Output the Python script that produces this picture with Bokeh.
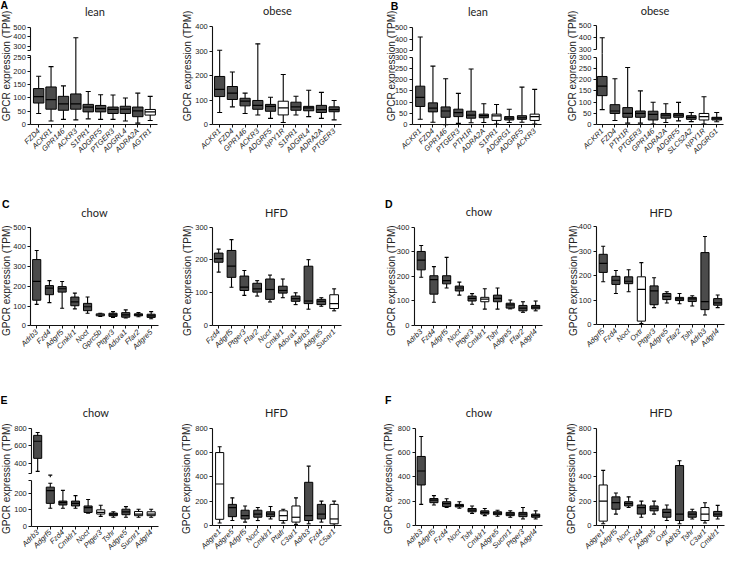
import math
from bokeh.plotting import figure
from bokeh.layouts import row, column
from bokeh.models import Range1d, LinearAxis, FixedTicker, Label
from bokeh.embed import file_html
from bokeh.resources import INLINE

# ---------------- data (TPM box statistics) ----------------
A_LEAN_GENES = ["FZD4", "ACKR1", "GPR146", "ACKR3", "S1PR1", "ADGRF5", "PTGER3", "ADGRL4", "ADRA2A", "AGTR1"]
A_LEAN_LOW = [42, 14, 20, 18, 22, 20, 20, 14, 6, 16]
A_LEAN_Q1 = [81, 58, 54, 58, 48, 48, 42, 42, 30, 36]
A_LEAN_MED = [105, 94, 78, 78, 66, 60, 57, 58, 52, 48]
A_LEAN_Q3 = [135, 141, 106, 115, 76, 72, 66, 69, 66, 57]
A_LEAN_HIGH = [181, 217, 145, 390, 124, 112, 111, 100, 118, 106]
A_LEAN_OPEN = ["AGTR1"]

A_OBESE_GENES = ["ACKR1", "FZD4", "GPR146", "ACKR3", "ADGRF5", "NPY1R", "S1PR1", "ADGRL4", "ADRA2A", "PTGER3"]
A_OBESE_LOW = [50, 73, 46, 40, 26, 9, 40, 33, 26, 20]
A_OBESE_Q1 = [115, 103, 77, 63, 55, 40, 59, 57, 50, 53]
A_OBESE_MED = [144, 129, 96, 79, 75, 69, 73, 69, 62, 62]
A_OBESE_Q3 = [197, 156, 108, 99, 83, 96, 92, 75, 79, 73]
A_OBESE_HIGH = [304, 215, 129, 330, 112, 205, 116, 141, 132, 99]
A_OBESE_OPEN = ["NPY1R"]

B_LEAN_GENES = ["ACKR1", "FZD4", "GPR146", "PTGER3", "PTH1R", "ADRA2A", "S1PR1", "ADGRG1", "ADGRF5", "ACKR3"]
B_LEAN_LOW = [24, 11, 0, 6, 9, 10, 3, 10, 11, 3]
B_LEAN_Q1 = [81, 57, 33, 36, 29, 31, 19, 21, 24, 19]
B_LEAN_MED = [121, 74, 61, 54, 43, 40, 39, 29, 31, 36]
B_LEAN_Q3 = [171, 97, 79, 69, 60, 47, 47, 36, 40, 47]
B_LEAN_HIGH = [420, 260, 204, 139, 247, 93, 90, 69, 167, 157]
B_LEAN_OPEN = ["S1PR1", "ACKR3"]

B_OBESE_GENES = ["ACKR1", "FZD4", "PTH1R", "PTGER3", "GPR146", "ADRA2A", "ADGRF5", "SLC52A2", "NPY1R", "ADGRG1"]
B_OBESE_LOW = [67, 19, 7, 7, 3, 10, 17, 14, 3, 13]
B_OBESE_Q1 = [129, 50, 33, 33, 21, 29, 33, 24, 21, 21]
B_OBESE_MED = [171, 61, 50, 50, 46, 43, 43, 33, 36, 29]
B_OBESE_Q3 = [214, 89, 76, 61, 60, 50, 50, 40, 50, 33]
B_OBESE_HIGH = [400, 204, 254, 150, 100, 93, 99, 54, 124, 54]
B_OBESE_OPEN = ["NPY1R"]

C_CHOW_GENES = ["Adrb3", "Fzd4", "Adgrf5", "Cmklr1", "Noct", "Gprc5b", "Ptger3", "Adora1", "Ffar2", "Adgre5"]
C_CHOW_LOW = [109, 118, 89, 86, 64, 48, 43, 40, 46, 36]
C_CHOW_Q1 = [130, 158, 171, 102, 77, 51, 48, 44, 51, 43]
C_CHOW_MED = [225, 191, 188, 122, 97, 56, 56, 56, 56, 51]
C_CHOW_Q3 = [336, 204, 199, 146, 114, 61, 64, 67, 61, 59]
C_CHOW_HIGH = [382, 229, 225, 166, 146, 64, 72, 81, 67, 72]
C_CHOW_OPEN = ["Gprc5b"]

C_HFD_GENES = ["Fzd4", "Adgrf5", "Ptger3", "Ffar2", "Noct", "Cmklr1", "Adora1", "Adrb3", "Adgre5", "Sucnr1"]
C_HFD_LOW = [163, 117, 92, 90, 72, 85, 64, 50, 59, 45]
C_HFD_Q1 = [193, 147, 107, 102, 80, 99, 74, 67, 64, 52]
C_HFD_MED = [204, 181, 117, 112, 110, 107, 82, 75, 74, 67]
C_HFD_Q3 = [221, 229, 151, 129, 142, 120, 90, 181, 80, 94]
C_HFD_HIGH = [233, 262, 168, 137, 154, 142, 100, 201, 85, 112]
C_HFD_OPEN = ["Sucnr1"]

D_CHOW_GENES = ["Adrb3", "Fzd4", "Adgrf5", "Noct", "Ptger3", "Cmklr1", "Tshr", "Adgre5", "Ffar2", "Adgrl4"]
D_CHOW_LOW = [196, 94, 152, 123, 86, 66, 66, 67, 53, 59]
D_CHOW_Q1 = [226, 127, 169, 140, 99, 96, 96, 70, 59, 67]
D_CHOW_MED = [266, 186, 182, 152, 110, 107, 110, 83, 70, 74]
D_CHOW_Q3 = [301, 202, 202, 160, 119, 114, 123, 90, 81, 81]
D_CHOW_HIGH = [325, 239, 277, 176, 129, 149, 152, 103, 96, 99]
D_CHOW_OPEN = ["Cmklr1"]

D_HFD_GENES = ["Adgrf5", "Fzd4", "Noct", "Oxtr", "Ptger3", "Adgre5", "Ffar2", "Tshr", "Adrb3", "Adgrl4"]
D_HFD_LOW = [176, 128, 135, 5, 70, 89, 86, 77, 40, 70]
D_HFD_Q1 = [214, 165, 168, 15, 82, 103, 99, 95, 62, 80]
D_HFD_MED = [251, 182, 178, 145, 139, 116, 106, 106, 95, 90]
D_HFD_Q3 = [288, 198, 196, 196, 159, 128, 112, 112, 295, 107]
D_HFD_HIGH = [321, 222, 225, 254, 192, 135, 128, 119, 361, 122]
D_HFD_OPEN = ["Oxtr"]

E_CHOW_GENES = ["Adrb3", "Adgrf5", "Fzd4", "Cmklr1", "Noct", "Ptger3", "Tshr", "Adgre5", "Sucnr1", "Adgrl4"]
E_CHOW_LOW = [307, 110, 110, 110, 80, 60, 54, 54, 54, 54]
E_CHOW_Q1 = [456, 140, 130, 124, 84, 74, 64, 70, 64, 64]
E_CHOW_MED = [652, 218, 144, 140, 114, 84, 74, 88, 74, 74]
E_CHOW_Q3 = [719, 240, 154, 154, 124, 100, 80, 104, 90, 88]
E_CHOW_HIGH = [752, 264, 220, 188, 164, 128, 88, 120, 104, 104]
E_CHOW_OPEN = ["Ptger3", "Sucnr1", "Adgrl4"]

E_HFD_GENES = ["Adgre1", "Adgre5", "Adgrf5", "Noct", "Cmklr1", "Ptafr", "C3ar1", "Adrb3", "Fzd4", "C5ar1"]
E_HFD_LOW = [20, 40, 27, 40, 53, 19, 8, 13, 27, 0]
E_HFD_Q1 = [50, 72, 53, 67, 72, 40, 27, 40, 53, 13]
E_HFD_MED = [341, 147, 80, 93, 93, 80, 67, 80, 93, 53]
E_HFD_Q3 = [600, 173, 125, 125, 112, 120, 160, 355, 173, 173]
E_HFD_HIGH = [648, 227, 160, 147, 155, 133, 227, 488, 200, 200]
E_HFD_OPEN = ["Adgre1", "Ptafr", "C3ar1", "C5ar1"]

F_CHOW_GENES = ["Adrb3", "Adgrf5", "Fzd4", "Noct", "Tshr", "Cmklr1", "Adgre5", "Sucnr1", "Ptger3", "Adgrl4"]
F_CHOW_LOW = [173, 168, 147, 141, 99, 80, 75, 67, 53, 53]
F_CHOW_Q1 = [333, 187, 155, 152, 112, 93, 88, 80, 72, 67]
F_CHOW_MED = [448, 208, 179, 165, 125, 107, 101, 93, 93, 80]
F_CHOW_Q3 = [568, 221, 195, 173, 139, 120, 112, 107, 107, 93]
F_CHOW_HIGH = [733, 245, 219, 195, 160, 139, 125, 120, 147, 120]
F_CHOW_OPEN = []

F_HFD_GENES = ["Adgre1", "Adgrf5", "Noct", "Fzd4", "Adgre5", "Oxtr", "Adrb3", "Tshr", "C3ar1", "Cmklr1"]
F_HFD_LOW = [13, 93, 147, 67, 93, 40, 13, 53, 19, 53]
F_HFD_Q1 = [35, 133, 160, 93, 120, 67, 40, 67, 40, 75]
F_HFD_MED = [200, 187, 179, 147, 141, 107, 93, 93, 93, 93]
F_HFD_Q3 = [333, 235, 195, 168, 160, 133, 493, 112, 147, 115]
F_HFD_HIGH = [453, 267, 235, 200, 200, 168, 533, 133, 187, 165]
F_HFD_OPEN = ["Adgre1", "C3ar1"]

# ---------------- layout / style ----------------
SX = 726 / 742
SY = 554 / 570
PADR = 0.55
DARK = "#4b4b4b"
TICK_FONT = "Liberation Sans"
TITLE_FONT = "Lato"
YLABEL = "GPCR expression (TPM)"


def seg(v0, y0, v1, y1, lo, hi, ticks):
    return dict(v0=v0, y0=y0, v1=v1, y1=y1, lo=lo, hi=hi, ticks=ticks)


R1 = dict(ry=0, rh=170, yy=67.5)
R2 = dict(ry=170, rh=195, yy=288)
R3 = dict(ry=365, rh=205, yy=492)

LAYOUT = {
    "A_LEAN": dict(R1, px=0, pw=185, ax=31, c0=39, c1=153, bw=0.84, cap=5, title="lean", tx=96.5, ty=11.5,
                   letter="A", lx=0, ly=4.5, yx=6,
                   segs=[seg(0, 128, 250, 59, 0, 257, [0, 50, 100, 150, 200, 250]),
                         seg(300, 47, 500, 28, 255, 500, [300, 400, 500])]),
    "A_OBESE": dict(R1, px=185, pw=185, ax=217, c0=224, c1=341, bw=0.8, cap=5, title="obese", tx=283, ty=10.5,
                    letter=None, yx=191.5,
                    segs=[seg(0, 128, 400, 27, 0, 400, [0, 100, 200, 300, 400])]),
    "B_LEAN": dict(R1, px=370, pw=185, ax=421, c0=429, c1=546, bw=0.72, cap=5, title="lean", tx=488, ty=11.5,
                   letter="B", lx=399, ly=5.5, yx=399.5,
                   segs=[seg(0, 128, 300, 58.3, 0, 300, [0, 50, 100, 150, 200, 250, 300]),
                         seg(300, 51.7, 500, 28.3, 300, 500, [300, 400, 500])]),
    "B_OBESE": dict(R1, px=555, pw=187, ax=609, c0=615, c1=732, bw=0.76, cap=5, title="obese", tx=669, ty=10.5,
                    letter=None, yx=585,
                    segs=[seg(0, 128, 300, 58.3, 0, 300, [0, 50, 100, 150, 200, 250, 300]),
                          seg(300, 50.7, 500, 26, 300, 500, [300, 400, 500])]),
    "C_CHOW": dict(R2, px=0, pw=185, ax=31, c0=37, c1=154, bw=0.64, cap=4, title="chow", tx=96, ty=217.5,
                   letter="C", lx=1.5, ly=209, yx=6.5,
                   segs=[seg(0, 334.6, 500, 233.3, 0, 500, [0, 100, 200, 300, 400, 500])]),
    "C_HFD": dict(R2, px=185, pw=185, ax=217, c0=223, c1=341, bw=0.68, cap=4, title="HFD", tx=282, ty=217.5,
                  letter=None, yx=191.5,
                  segs=[seg(0, 334.3, 300, 233.3, 0, 300, [0, 100, 200, 300])]),
    "D_CHOW": dict(R2, px=370, pw=185, ax=423, c0=430, c1=547, bw=0.64, cap=4, title="chow", tx=489, ty=217,
                   letter="D", lx=393, ly=209, yx=399.5,
                   segs=[seg(0, 334, 400, 233.3, 0, 400, [0, 100, 200, 300, 400])]),
    "D_HFD": dict(R2, px=555, pw=187, ax=609, c0=616, c1=733, bw=0.64, cap=4, title="HFD", tx=675, ty=218,
                  letter=None, yx=586,
                  segs=[seg(0, 333.5, 400, 233, 0, 400, [0, 100, 200, 300, 400])]),
    "E_CHOW": dict(R3, px=0, pw=185, ax=32, c0=38, c1=154, bw=0.64, cap=4, title="chow", tx=97.5, ty=423.5,
                   letter="E", lx=0, ly=411, yx=6.5,
                   segs=[seg(0, 540.7, 200, 507.3, 0, 280, [0, 100, 200]),
                         seg(400, 476, 800, 440, 280, 800, [400, 600, 800])]),
    "E_HFD": dict(R3, px=185, pw=185, ax=217, c0=224, c1=341, bw=0.64, cap=4, title="HFD", tx=282, ty=423.5,
                  letter=None, yx=190,
                  segs=[seg(0, 540, 800, 440, 0, 800, [0, 200, 400, 600, 800])]),
    "F_CHOW": dict(R3, px=370, pw=185, ax=424, c0=430, c1=547, bw=0.64, cap=4, title="chow", tx=489, ty=423.5,
                   letter="F", lx=393, ly=411, yx=397,
                   segs=[seg(0, 540, 800, 440, 0, 800, [0, 200, 400, 600, 800])]),
    "F_HFD": dict(R3, px=555, pw=187, ax=609, c0=616, c1=733, bw=0.64, cap=4, title="HFD", tx=675, ty=423.5,
                  letter=None, yx=583.5,
                  segs=[seg(0, 540, 800, 440, 0, 800, [0, 200, 400, 600, 800])]),
}


def slope(s):
    return (s["y0"] - s["y1"]) / (s["v1"] - s["v0"])


def px_of(s, v):
    return s["y0"] - (v - s["v0"]) * slope(s)


def val_of(s, y):
    return s["v0"] + (s["y0"] - y) / slope(s)


def style_axis(a, size="7.5px"):
    a.axis_line_color = "#111111"
    a.axis_line_width = 1.1
    a.major_tick_line_color = "#111111"
    a.major_tick_line_width = 1
    a.major_tick_out = 3
    a.major_tick_in = 0
    a.minor_tick_out = 0
    a.minor_tick_in = 0
    a.major_label_text_font = TICK_FONT
    a.major_label_text_font_size = size
    a.major_label_text_color = "#222222"
    a.major_label_standoff = 2


def make_panel(key, genes, low, q1, med, q3, high, open_genes):
    g = LAYOUT[key]
    n = len(genes)
    W = round(g["pw"] * SX)
    H = round(g["rh"] * SY)
    sp = (g["c1"] - g["c0"]) / (n - 1)
    # the frame covers the whole panel; axes sit inside it at fixed locations
    xs = (g["px"] - g["c0"]) / sp
    xe = (g["px"] + g["pw"] - g["c0"]) / sp
    x_axis_pos = (g["ax"] - g["c0"]) / sp
    segs = g["segs"]
    top_px = g["ry"]
    bot_px = g["ry"] + g["rh"]

    ranges = []
    for s in segs:
        k = slope(s)
        ranges.append((s["v0"] - (bot_px - s["y0"]) / k, s["v1"] + (s["y1"] - top_px) / k))

    p = figure(width=W, height=H, x_range=Range1d(xs, xe), y_range=Range1d(*ranges[0]),
               toolbar_location=None, output_backend="svg", title=None,
               x_axis_location=None, y_axis_location=None,
               min_border_left=0, min_border_right=0, min_border_top=0, min_border_bottom=0)
    p.outline_line_color = None
    p.background_fill_color = "white"
    p.border_fill_color = "white"
    p.grid.visible = False

    names = ["default"]
    if len(segs) > 1:
        p.extra_y_ranges = {"upper": Range1d(*ranges[1])}
        names.append("upper")
        gap_mid = (px_of(segs[0], segs[0]["hi"]) + px_of(segs[1], segs[1]["lo"])) / 2
        clips = [(-1e9, val_of(segs[0], gap_mid)), (val_of(segs[1], gap_mid), 1e9)]
    else:
        clips = [(-1e9, 1e9)]

    xpos = list(range(n))
    bw = g["bw"]
    for s, name, (clo, chi) in zip(segs, names, clips):
        def cl(a, b):
            a2, b2 = max(a, clo), min(b, chi)
            return (a2, b2) if b2 > a2 else None
        wx0, wy0, wx1, wy1 = [], [], [], []
        bx, bb, bt, bc = [], [], [], []
        mx0, mx1, my = [], [], []
        cx, cy = [], []
        for i in range(n):
            x = xpos[i]
            for a, b in ((low[i], q1[i]), (q3[i], high[i])):
                c = cl(a, b)
                if c:
                    wx0.append(x); wx1.append(x); wy0.append(c[0]); wy1.append(c[1])
            c = cl(q1[i], q3[i])
            if c:
                bx.append(x); bb.append(c[0]); bt.append(c[1])
                bc.append("white" if genes[i] in open_genes else DARK)
            if clo <= med[i] <= chi:
                mx0.append(x - bw / 2); mx1.append(x + bw / 2); my.append(med[i])
            for v in (low[i], high[i]):
                if clo <= v <= chi:
                    cx.append(x); cy.append(v)
        p.segment(wx0, wy0, wx1, wy1, line_color="black", line_width=1.1, y_range_name=name)
        p.vbar(x=bx, bottom=bb, top=bt, width=bw, fill_color=bc, line_color="black",
               line_width=1, y_range_name=name)
        p.segment(mx0, my, mx1, my, line_color="black", line_width=1.2, y_range_name=name)
        p.scatter(cx, cy, marker="dash", size=g["cap"], line_color="black", line_width=1.1,
                  y_range_name=name)

        tk = list(s["ticks"])
        overrides = {}
        if len(segs) > 1:
            for e in (s["lo"], s["hi"]):
                if e not in tk:
                    tk.append(e)
                    overrides[e] = ""
        ya = LinearAxis(y_range_name=name, fixed_location=x_axis_pos, bounds=(s["lo"], s["hi"]),
                        ticker=FixedTicker(ticks=sorted(tk)), major_label_overrides=overrides)
        style_axis(ya)
        p.add_layout(ya, "left")

    xa = LinearAxis(fixed_location=0, bounds=(x_axis_pos, (n - 1) + PADR),
                    ticker=FixedTicker(ticks=xpos),
                    major_label_overrides={i: gname for i, gname in enumerate(genes)},
                    major_label_orientation=math.pi / 4)
    style_axis(xa, "7.5px")
    xa.major_label_text_font_style = "italic"
    p.add_layout(xa, "below")

    def lab(text, xr, yr, **kw):
        p.add_layout(Label(x=(xr - g["px"]) * SX, y=(bot_px - yr) * SY, x_units="screen",
                           y_units="screen", text=text, **kw))

    lab(g["title"], g["tx"], g["ty"], text_font=TITLE_FONT, text_font_size="11px",
        text_color="#222222", text_align="center", text_baseline="middle")
    lab(YLABEL, g["yx"], g["yy"], text_font=TICK_FONT, text_font_size="10px",
        text_color="#222222", text_align="center", text_baseline="middle", angle=math.pi / 2)
    if g["letter"]:
        lab(g["letter"], g["lx"], g["ly"], text_font=TICK_FONT, text_font_size="10.5px",
            text_font_style="bold", text_color="black", text_align="left", text_baseline="middle")
    return p


panels = [
    make_panel("A_LEAN", A_LEAN_GENES, A_LEAN_LOW, A_LEAN_Q1, A_LEAN_MED, A_LEAN_Q3, A_LEAN_HIGH, A_LEAN_OPEN),
    make_panel("A_OBESE", A_OBESE_GENES, A_OBESE_LOW, A_OBESE_Q1, A_OBESE_MED, A_OBESE_Q3, A_OBESE_HIGH, A_OBESE_OPEN),
    make_panel("B_LEAN", B_LEAN_GENES, B_LEAN_LOW, B_LEAN_Q1, B_LEAN_MED, B_LEAN_Q3, B_LEAN_HIGH, B_LEAN_OPEN),
    make_panel("B_OBESE", B_OBESE_GENES, B_OBESE_LOW, B_OBESE_Q1, B_OBESE_MED, B_OBESE_Q3, B_OBESE_HIGH, B_OBESE_OPEN),
    make_panel("C_CHOW", C_CHOW_GENES, C_CHOW_LOW, C_CHOW_Q1, C_CHOW_MED, C_CHOW_Q3, C_CHOW_HIGH, C_CHOW_OPEN),
    make_panel("C_HFD", C_HFD_GENES, C_HFD_LOW, C_HFD_Q1, C_HFD_MED, C_HFD_Q3, C_HFD_HIGH, C_HFD_OPEN),
    make_panel("D_CHOW", D_CHOW_GENES, D_CHOW_LOW, D_CHOW_Q1, D_CHOW_MED, D_CHOW_Q3, D_CHOW_HIGH, D_CHOW_OPEN),
    make_panel("D_HFD", D_HFD_GENES, D_HFD_LOW, D_HFD_Q1, D_HFD_MED, D_HFD_Q3, D_HFD_HIGH, D_HFD_OPEN),
    make_panel("E_CHOW", E_CHOW_GENES, E_CHOW_LOW, E_CHOW_Q1, E_CHOW_MED, E_CHOW_Q3, E_CHOW_HIGH, E_CHOW_OPEN),
    make_panel("E_HFD", E_HFD_GENES, E_HFD_LOW, E_HFD_Q1, E_HFD_MED, E_HFD_Q3, E_HFD_HIGH, E_HFD_OPEN),
    make_panel("F_CHOW", F_CHOW_GENES, F_CHOW_LOW, F_CHOW_Q1, F_CHOW_MED, F_CHOW_Q3, F_CHOW_HIGH, F_CHOW_OPEN),
    make_panel("F_HFD", F_HFD_GENES, F_HFD_LOW, F_HFD_Q1, F_HFD_MED, F_HFD_Q3, F_HFD_HIGH, F_HFD_OPEN),
]

layout = column(row(*panels[0:4]), row(*panels[4:8]), row(*panels[8:12]))

with open("out.html", "w") as f:
    f.write(file_html(layout, INLINE))
